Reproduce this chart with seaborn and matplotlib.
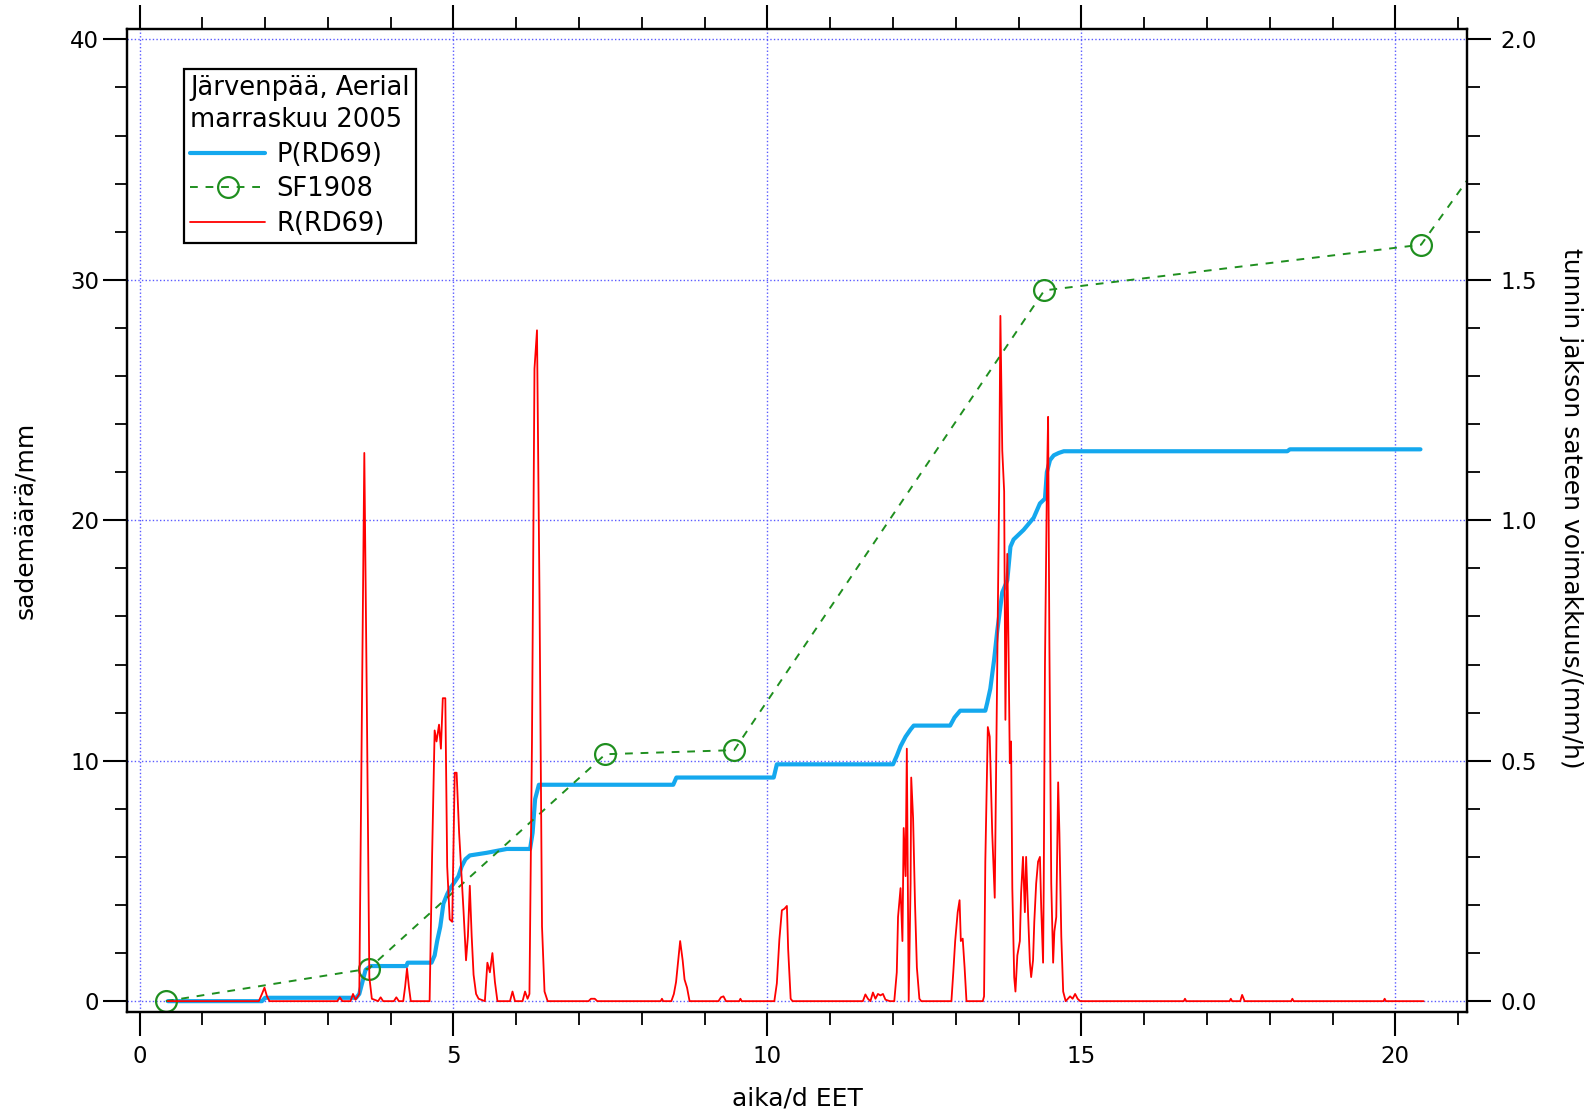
import numpy as np
import pandas as pd
import seaborn as sns
import matplotlib
matplotlib.use("Agg")
import matplotlib.pyplot as plt
from matplotlib.ticker import MultipleLocator, FormatStrFormatter

# ---- data ----
# cumulative precipitation P(RD69), mm
P_t = [0.45, 1.95, 2.00, 3.45, 3.50, 3.55, 3.60, 3.68, 4.25, 4.27, 4.65, 4.70,
       4.74, 4.79, 4.84, 4.90, 4.95, 5.03, 5.08, 5.13, 5.19, 5.26, 5.53, 5.69,
       5.85, 6.22, 6.26, 6.30, 6.36, 8.50, 8.55, 10.10, 10.15, 12.00, 12.06, 12.12,
       12.20, 12.28, 12.33, 12.91, 12.98, 13.07, 13.47, 13.50, 13.55, 13.61, 13.66,
       13.74, 13.82, 13.87, 13.92, 14.08, 14.24, 14.34, 14.42, 14.45, 14.50, 14.56,
       14.64, 14.72, 18.28, 18.32, 20.40]
P_v = [0.0, 0.0, 0.14, 0.14, 0.3, 0.8, 1.3, 1.46, 1.46, 1.6, 1.6, 1.9,
       2.5, 3.1, 4.06, 4.45, 4.7, 5.0, 5.2, 5.6, 5.9, 6.06, 6.17, 6.25,
       6.33, 6.33, 7.0, 8.4, 9.0, 9.0, 9.3, 9.3, 9.85, 9.85, 10.2, 10.6,
       11.0, 11.3, 11.46, 11.46, 11.8, 12.08, 12.08, 12.4, 13.0, 14.2, 15.4,
       17.0, 17.5, 18.9, 19.2, 19.6, 20.1, 20.7, 20.9, 22.0, 22.5, 22.7,
       22.8, 22.87, 22.87, 22.95, 22.95]

# SF1908 gauge readings, mm
SF_t = [0.42, 3.65, 7.42, 9.47, 14.41, 20.41, 21.60]
SF_v = [0.0, 1.35, 10.27, 10.44, 29.56, 31.46, 35.8]

# hourly rain intensity R(RD69), mm/h
R_t = [0.45, 1.90, 1.95, 1.99, 2.03, 2.07, 3.15, 3.19, 3.23, 3.36, 3.40, 3.44,
       3.50, 3.54, 3.58, 3.62, 3.66, 3.70, 3.80, 3.84, 3.88, 4.05, 4.09, 4.13,
       4.20, 4.23, 4.26, 4.29, 4.32, 4.62, 4.66, 4.70, 4.73, 4.77, 4.80, 4.83,
       4.87, 4.90, 4.94, 4.98, 5.02, 5.05, 5.09, 5.12, 5.16, 5.20, 5.23, 5.26,
       5.29, 5.32, 5.36, 5.40, 5.50, 5.54, 5.58, 5.62, 5.66, 5.70, 5.90, 5.94,
       5.98, 6.10, 6.14, 6.18, 6.21, 6.25, 6.29, 6.33, 6.37, 6.41, 6.45, 6.50,
       7.15, 7.19, 7.25, 7.29, 8.30, 8.32, 8.34, 8.47, 8.51, 8.545, 8.58, 8.61,
       8.65, 8.68, 8.72, 8.76, 9.22, 9.26, 9.30, 9.34, 9.55, 9.57, 9.59, 10.11,
       10.15, 10.19, 10.23, 10.27, 10.31, 10.33, 10.37, 10.40, 11.52, 11.56, 11.60, 11.64,
       11.68, 11.72, 11.76, 11.80, 11.84, 11.88, 11.95, 12.02, 12.06, 12.08, 12.12, 12.15,
       12.17, 12.20, 12.22, 12.25, 12.28, 12.29, 12.32, 12.35, 12.38, 12.42, 12.45, 12.93,
       12.96, 12.99, 13.03, 13.06, 13.08, 13.11, 13.14, 13.17, 13.43, 13.45, 13.47, 13.51,
       13.54, 13.58, 13.62, 13.65, 13.69, 13.71, 13.74, 13.77, 13.79, 13.82, 13.84, 13.86,
       13.88, 13.90, 13.93, 13.95, 13.98, 14.02, 14.04, 14.07, 14.10, 14.12, 14.15, 14.18,
       14.20, 14.23, 14.25, 14.28, 14.31, 14.34, 14.36, 14.39, 14.40, 14.42, 14.45, 14.47,
       14.49, 14.52, 14.55, 14.57, 14.60, 14.63, 14.65, 14.68, 14.71, 14.75, 14.82, 14.86,
       14.90, 14.94, 14.98, 16.63, 16.65, 16.67, 17.36, 17.38, 17.40, 17.53, 17.56, 17.60,
       18.34, 18.36, 18.38, 19.81, 19.83, 19.85, 20.45]
R_v = [0, 0, 0.015, 0.028, 0.01, 0, 0, 0.008, 0, 0, 0.015, 0.003,
       0.015, 0.57, 1.14, 0.62, 0.05, 0.005, 0, 0.008, 0, 0, 0.008, 0,
       0, 0.03, 0.068, 0.03, 0, 0, 0.305, 0.563, 0.54, 0.575, 0.525, 0.63,
       0.63, 0.28, 0.17, 0.165, 0.475, 0.475, 0.35, 0.28, 0.188, 0.085, 0.135, 0.24,
       0.135, 0.055, 0.015, 0.005, 0, 0.08, 0.06, 0.1, 0.04, 0, 0, 0.02,
       0, 0, 0.02, 0.005, 0.015, 0.538, 1.315, 1.395, 0.845, 0.155, 0.02, 0,
       0, 0.005, 0.005, 0, 0, 0.005, 0, 0, 0.015, 0.04, 0.085, 0.125,
       0.085, 0.045, 0.028, 0, 0, 0.008, 0.01, 0, 0, 0.005, 0, 0,
       0.037, 0.128, 0.189, 0.192, 0.198, 0.108, 0.005, 0, 0, 0.014, 0.005, 0,
       0.018, 0.005, 0.015, 0.012, 0.015, 0.003, 0, 0, 0.06, 0.175, 0.235, 0.125,
       0.36, 0.26, 0.525, 0, 0.245, 0.465, 0.38, 0.205, 0.07, 0.005, 0, 0,
       0.06, 0.125, 0.185, 0.21, 0.125, 0.13, 0.07, 0, 0, 0.01, 0.29, 0.57,
       0.55, 0.35, 0.215, 0.575, 1.06, 1.425, 1.145, 1.06, 0.585, 0.93, 0.73, 0.495,
       0.54, 0.235, 0.05, 0.02, 0.095, 0.125, 0.225, 0.3, 0.185, 0.3, 0.185, 0.08,
       0.05, 0.085, 0.165, 0.245, 0.29, 0.3, 0.195, 0.08, 0.235, 0.7, 1.065, 1.215,
       0.75, 0.245, 0.08, 0.145, 0.175, 0.455, 0.35, 0.135, 0.02, 0, 0.01, 0.005,
       0.015, 0.005, 0, 0, 0.005, 0, 0, 0.005, 0, 0, 0.013, 0,
       0, 0.005, 0, 0, 0.005, 0, 0]

assert len(P_t) == len(P_v) and len(SF_t) == len(SF_v) and len(R_t) == len(R_v)

legend_title = "Järvenpää, Aerial\nmarraskuu 2005"
label_P = "P(RD69)"
label_SF = "SF1908"
label_R = "R(RD69)"
xlabel = "aika/d EET"
ylabel_left = "sademäärä/mm"
ylabel_right = "tunnin jakson sateen voimakkuus/(mm/h)"

dfP = pd.DataFrame({"t": P_t, "v": P_v})
dfSF = pd.DataFrame({"t": SF_t, "v": SF_v})
dfR = pd.DataFrame({"t": R_t, "v": R_v})

# ---- style ----
sns.set_theme(style="white")
plt.rcParams['font.family'] = ['DejaVu Sans']
plt.rcParams['axes.linewidth'] = 1.6
plt.rcParams['xtick.color'] = 'black'
plt.rcParams['ytick.color'] = 'black'
plt.rcParams['text.color'] = 'black'
plt.rcParams['axes.labelcolor'] = 'black'
plt.rcParams['legend.labelcolor'] = 'black'

C_BLUE = '#14a8ee'
C_GREEN = '#1f8f1f'
C_RED = '#ff0000'
C_GRID = '#5a5aff'

fig = plt.figure(figsize=(15.95, 11.15), dpi=100)
left, right, bottom, top = 0.0796, 0.9197, 0.0924, 0.9744
ax = fig.add_axes([left, bottom, right - left, top - bottom])
ax2 = ax.twinx()

YMIN, YMAX = -0.45, 40.45
ax.set_xlim(-0.2, 21.14)
ax.set_ylim(YMIN, YMAX)
ax2.set_ylim(YMIN / 20, YMAX / 20)

ax.grid(True, which='major', color=C_GRID, linestyle=(0, (1, 1.6)), linewidth=1.0)

sns.lineplot(data=dfP, x="t", y="v", ax=ax, color=C_BLUE, linewidth=3.0,
             sort=False, estimator=None, label=label_P, legend=False)
sns.lineplot(data=dfSF, x="t", y="v", ax=ax, color=C_GREEN, linewidth=1.4,
             linestyle=(0, (4, 4)), marker='o', markersize=15, markerfacecolor='none',
             markeredgecolor=C_GREEN, markeredgewidth=1.6, markevery=list(range(6)),
             sort=False, estimator=None, label=label_SF, legend=False)
sns.lineplot(data=dfR, x="t", y="v", ax=ax2, color=C_RED, linewidth=1.3,
             sort=False, estimator=None, label=label_R, legend=False)

# ticks
ax.xaxis.set_major_locator(MultipleLocator(5))
ax.xaxis.set_minor_locator(MultipleLocator(1))
ax.yaxis.set_major_locator(MultipleLocator(10))
ax.yaxis.set_minor_locator(MultipleLocator(2))
ax2.yaxis.set_major_locator(MultipleLocator(0.5))
ax2.yaxis.set_minor_locator(MultipleLocator(0.1))
ax2.yaxis.set_major_formatter(FormatStrFormatter('%.1f'))

ax.tick_params(axis='both', which='major', direction='out', length=17, width=1.5,
               labelsize=16.5, pad=3, labelcolor='black')
ax.tick_params(axis='x', which='major', pad=7)
ax.tick_params(axis='both', which='minor', direction='out', length=9, width=1.3)
ax.tick_params(axis='x', which='both', top=True, bottom=True)
ax.tick_params(axis='y', which='both', left=True, right=False)
ax2.tick_params(axis='y', which='major', direction='out', length=17, width=1.5,
                labelsize=16.5, pad=7, labelcolor='black')
ax2.tick_params(axis='y', which='minor', direction='out', length=9, width=1.3)

for a in (ax, ax2):
    for s in a.spines.values():
        s.set_visible(True)
        s.set_color('black')
        s.set_linewidth(1.6)

ax.set_xlabel(xlabel, fontsize=18, color='black')
ax.set_ylabel(ylabel_left, fontsize=18, color='black')
ax2.set_ylabel(ylabel_right, fontsize=18, color='black', rotation=-90)
ax.xaxis.set_label_coords(0.5, -0.088)
ax.xaxis.label.set_va('center')
ax.yaxis.set_label_coords(-0.076, 0.5)
ax.yaxis.label.set_va('center')
ax2.yaxis.set_label_coords(1.078, 0.512)
ax2.yaxis.label.set_va('center')

handles = ax.get_lines()
hP = [l for l in handles if l.get_label() == label_P][0]
hSF = [l for l in handles if l.get_label() == label_SF][0]
hR = [l for l in ax2.get_lines() if l.get_label() == label_R][0]
leg = ax2.legend([hP, hSF, hR], [label_P, label_SF, label_R],
                 title=legend_title, alignment='left',
                 loc='upper left', bbox_to_anchor=(0.0425, 0.959),
                 borderaxespad=0, fontsize=18.5, title_fontsize=18.5,
                 frameon=True, fancybox=False, framealpha=1, edgecolor='black',
                 handlelength=2.9, handletextpad=0.45, labelspacing=0.33,
                 borderpad=0.25, markerscale=1.0)
leg.get_frame().set_linewidth(1.6)
leg.get_title().set_linespacing(1.3)
leg.get_title().set_color('black')

fig.savefig("out.png", dpi=100)
